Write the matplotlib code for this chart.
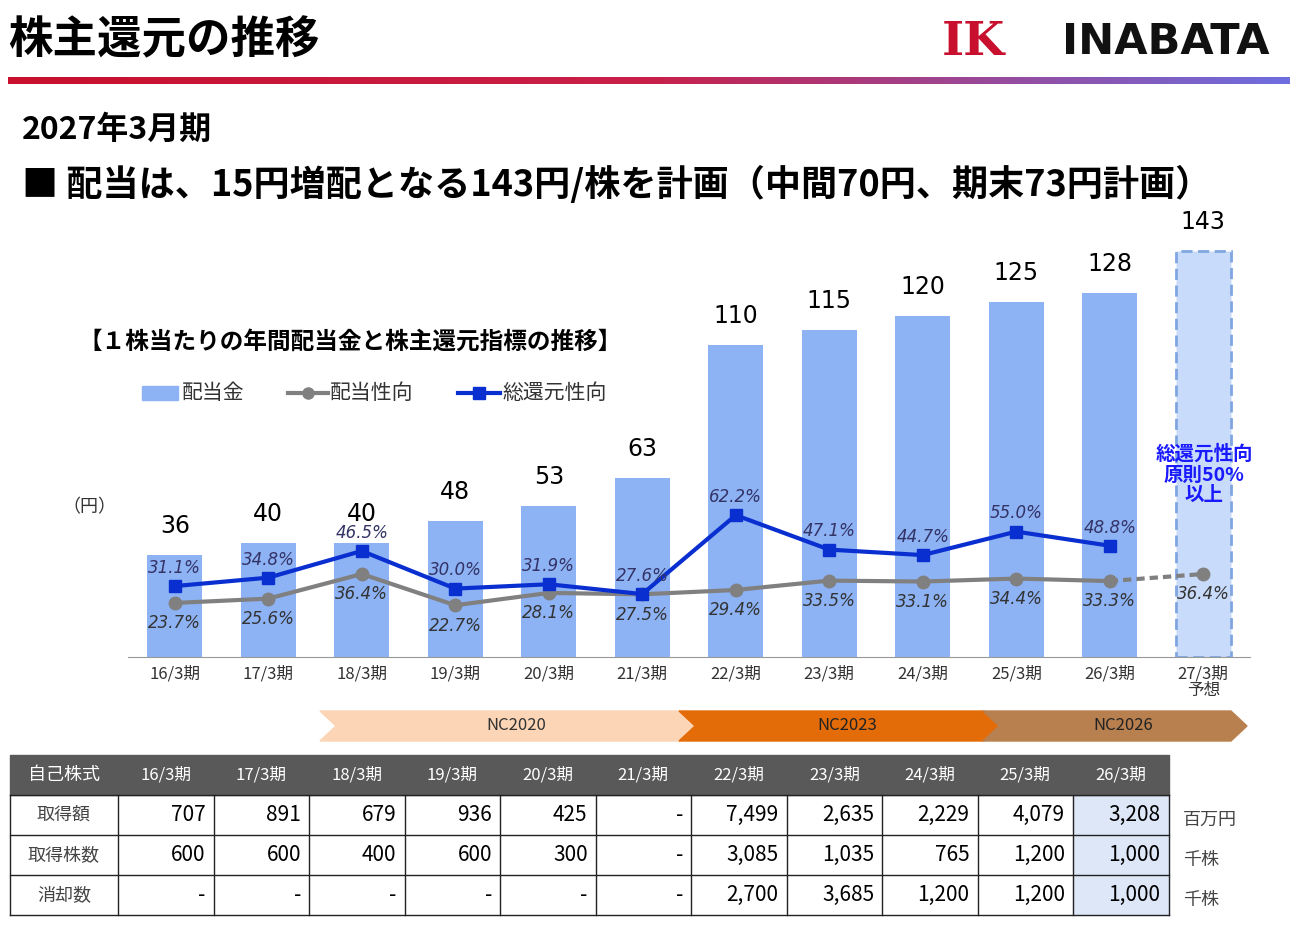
import matplotlib
matplotlib.use("Agg")
import matplotlib.pyplot as plt
import numpy as np
from matplotlib.colors import LinearSegmentedColormap
from matplotlib.patches import Polygon, Rectangle

plt.rcParams["font.family"] = ["Noto Sans CJK JP", "DejaVu Sans"]

periods = ["16/3期", "17/3期", "18/3期", "19/3期", "20/3期", "21/3期",
           "22/3期", "23/3期", "24/3期", "25/3期", "26/3期", "27/3期\n予想"]
dividend = [36, 40, 40, 48, 53, 63, 110, 115, 120, 125, 128, 143]
payout = [23.7, 25.6, 36.4, 22.7, 28.1, 27.5, 29.4, 33.5, 33.1, 34.4, 33.3, 36.4]
total_return = [31.1, 34.8, 46.5, 30.0, 31.9, 27.6, 62.2, 47.1, 44.7, 55.0, 48.8]

table_cols = ["16/3期", "17/3期", "18/3期", "19/3期", "20/3期", "21/3期",
              "22/3期", "23/3期", "24/3期", "25/3期", "26/3期"]
table_rows = {
    "取得額": ["707", "891", "679", "936", "425", "-", "7,499", "2,635", "2,229", "4,079", "3,208"],
    "取得株数": ["600", "600", "400", "600", "300", "-", "3,085", "1,035", "765", "1,200", "1,000"],
    "消却数": ["-", "-", "-", "-", "-", "-", "2,700", "3,685", "1,200", "1,200", "1,000"],
}
units = ["百万円", "千株", "千株"]

W, H = 1300, 925
fig = plt.figure(figsize=(13, 9.25), dpi=100)
bg = fig.add_axes([0, 0, 1, 1])
bg.set_xlim(0, W)
bg.set_ylim(H, 0)
bg.axis("off")

# header
bg.text(8, 40, "株主還元の推移", fontsize=32, fontweight="bold", va="center")
bg.text(942, 42, "IK", fontsize=34, fontweight="bold", color="#c8102e", va="center",
        family=["DejaVu Serif"])
bg.text(1062, 42, "INABATA", fontsize=31, fontweight="bold", color="#111111", va="center",
        family=["DejaVu Sans"])
grad = LinearSegmentedColormap.from_list("g", ["#c8102e", "#c8204a", "#6e6ee0"])
bg.imshow(np.linspace(0, 1, 256)[None, :], cmap=grad, aspect="auto",
          extent=[8, 1290, 84, 77], zorder=1)
bg.set_xlim(0, W)
bg.set_ylim(H, 0)

bg.text(22, 130, "2027年3月期", fontsize=23, fontweight="bold", va="center")
bg.text(22, 185, "■ 配当は、15円増配となる143円/株を計画（中間70円、期末73円計画）",
        fontsize=26, fontweight="bold", va="center")
bg.text(78, 342, "【１株当たりの年間配当金と株主還元指標の推移】", fontsize=17,
        fontweight="bold", va="center")
bg.text(62, 507, "（円）", fontsize=13, va="center", color="#333333")

# legend
bg.add_patch(Rectangle((142, 386), 36, 14, color="#8db3f5"))
bg.text(182, 393, "配当金", fontsize=15, va="center", color="#333333")
bg.plot([288, 328], [393, 393], color="#808080", lw=3)
bg.plot([308], [393], "o", color="#808080", ms=8)
bg.text(330, 393, "配当性向", fontsize=15, va="center", color="#333333")
bg.plot([458, 500], [393, 393], color="#0a2fd0", lw=3)
bg.plot([479], [393], "s", color="#0a2fd0", ms=8)
bg.text(502, 393, "総還元性向", fontsize=15, va="center", color="#333333")

# NC chevrons
def chevron(x0, x1, color, label, tc, notch=True):
    y0, y1, tip = 711, 741, 16
    pts = [(x0, y0), (x1 - tip, y0), (x1, (y0 + y1) / 2), (x1 - tip, y1), (x0, y1)]
    if notch:
        pts.append((x0 + tip, (y0 + y1) / 2))
    bg.add_patch(Polygon(pts, closed=True, color=color, zorder=2))
    bg.text((x0 + x1) / 2 + 8, 726, label, fontsize=12, ha="center", va="center",
            color=tc, zorder=3)

chevron(320, 697, "#fbd5b5", "NC2020", "#333333")
chevron(679, 1000, "#e36c09", "NC2023", "#222222")
chevron(983, 1247, "#b8804f", "NC2026", "#222222")

# table
col_edges = [10, 118] + [118 + 95.5 * (i + 1) for i in range(11)]
row_edges = [755, 795, 835, 875, 915]
bg.add_patch(Rectangle((10, 755), col_edges[-1] - 10, 40, color="#595959", zorder=2))
bg.text(64, 775, "自己株式", fontsize=13, color="white", ha="center", va="center", zorder=3)
for i, c in enumerate(table_cols):
    bg.text((col_edges[i + 1] + col_edges[i + 2]) / 2, 775, c, fontsize=12,
            color="white", ha="center", va="center", zorder=3)
bg.add_patch(Rectangle((col_edges[-2], 795), col_edges[-1] - col_edges[-2], 120,
                       color="#dde7f7", zorder=1))
for r, (name, vals) in enumerate(table_rows.items()):
    yc = (row_edges[r + 1] + row_edges[r + 2]) / 2
    bg.text(64, yc, name, fontsize=13, color="#444444", ha="center", va="center")
    for i, v in enumerate(vals):
        bg.text(col_edges[i + 2] - 8, yc, v, fontsize=15, ha="right", va="center")
    bg.text(1183, yc + 5, units[r], fontsize=13, color="#444444", va="center")
for y in row_edges[1:]:
    bg.plot([10, col_edges[-1]], [y, y], color="#222222", lw=1, zorder=4)
for x in col_edges:
    bg.plot([x, x], [795, 915], color="#222222", lw=1, zorder=4)

# main chart
ax = fig.add_axes([128 / W, 1 - 657 / H, (1250 - 128) / W, (657 - 230) / H])
ax.patch.set_alpha(0)
x = np.arange(len(periods))
ax.set_xlim(-0.5, 11.5)
top_yen = (657 - 230) / 2.84
ax.set_ylim(0, top_yen)
colors = ["#8db3f5"] * 11 + ["#c9dbfa"]
bars = ax.bar(x, dividend, width=0.59, color=colors, zorder=1)
bars[-1].set_edgecolor("#7fa6e0")
bars[-1].set_linestyle((0, (4, 2)))
bars[-1].set_linewidth(2)
for xi, d in zip(x, dividend):
    ax.text(xi, d + 6, str(d), ha="center", va="bottom", fontsize=17,
            family=["DejaVu Sans"])
ax.set_xticks(x)
ax.set_xticklabels(periods, fontsize=12, color="#333333", linespacing=1.0)
ax.tick_params(axis="x", length=0, pad=6)
ax.set_yticks([])
for s in ["top", "right", "left"]:
    ax.spines[s].set_visible(False)
ax.spines["bottom"].set_color("#999999")

ax2 = ax.twinx()
ax2.set_ylim(0, (657 - 230) / 2.28)
ax2.axis("off")
ax2.plot(x[:11], payout[:11], color="#808080", lw=3, marker="o", ms=9, zorder=3)
ax2.plot(x[10:], payout[10:], color="#808080", lw=3, ls=(0, (2, 1.2)), zorder=3)
ax2.plot(x[11], payout[11], "o", color="#808080", ms=9, zorder=3)
ax2.plot(x[:11], total_return, color="#0a2fd0", lw=3, marker="s", ms=9, zorder=4)
for xi, p in zip(x, payout):
    ax2.text(xi, p - 5, f"{p:.1f}%", ha="center", va="top", fontsize=12,
             style="italic", color="#333333", zorder=5, family=["DejaVu Sans"])
for xi, t in zip(x, total_return):
    ax2.text(xi, t + 4, f"{t:.1f}%", ha="center", va="bottom", fontsize=12,
             style="italic", color="#333366", zorder=5, family=["DejaVu Sans"])

fig.text(1204 / W, 1 - 475 / H, "総還元性向\n原則50%\n以上", fontsize=14,
         fontweight="bold", color="#1a1aff", ha="center", va="center",
         linespacing=1.1, zorder=10)

fig.savefig("out.png", dpi=100)
